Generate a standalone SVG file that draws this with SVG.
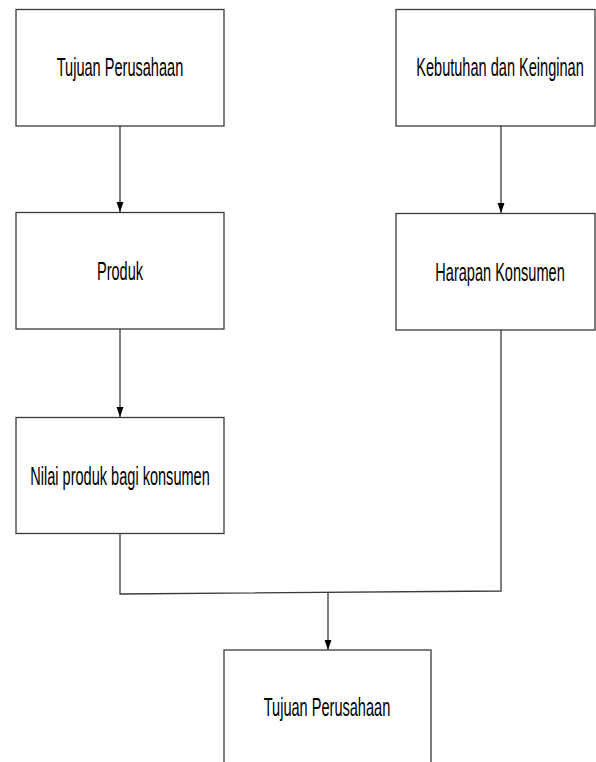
<svg xmlns="http://www.w3.org/2000/svg" width="596" height="762" viewBox="0 0 596 762">
<style>
.box{fill:#fff;stroke:#3a3a3a;stroke-width:1.3}
.lbl{font-family:"Liberation Sans",Arial,sans-serif;font-size:26px;fill:#000;text-anchor:middle}
.ln{fill:none;stroke:#3a3a3a;stroke-width:1.3}
</style>
<defs>
<marker id="ah" markerWidth="10" markerHeight="8" refX="10" refY="4" orient="auto" markerUnits="userSpaceOnUse" viewBox="0 0 10 8">
<path d="M0,0.5 L10,4 L0,7.5 Z" fill="#000"/>
</marker>
</defs>
<rect width="596" height="762" fill="#fff"/>
<g id="connectors">
<path class="ln" d="M120,126 L120,212" marker-end="url(#ah)"/>
<path class="ln" d="M501,126 L501,213" marker-end="url(#ah)"/>
<path class="ln" d="M120,329 L120,417" marker-end="url(#ah)"/>
<path class="ln" d="M120,533 L120,594 L501,591 L501,330"/>
<path class="ln" d="M328,593 L328,650" marker-end="url(#ah)"/>
</g>
<g id="n1"><rect class="box" x="16" y="9.5" width="208" height="116.5"/><text class="lbl" transform="translate(120,76) scale(0.56,1)">Tujuan Perusahaan</text></g>
<g id="n2"><rect class="box" x="396" y="9.5" width="199" height="116.5"/><text class="lbl" transform="translate(500,76) scale(0.56,1)">Kebutuhan dan Keinginan</text></g>
<g id="n3"><rect class="box" x="16" y="212.5" width="208" height="116.5"/><text class="lbl" transform="translate(120,280) scale(0.56,1)">Produk</text></g>
<g id="n4"><rect class="box" x="396" y="213.5" width="199" height="116.5"/><text class="lbl" transform="translate(500,281) scale(0.56,1)">Harapan Konsumen</text></g>
<g id="n5"><rect class="box" x="16" y="417.5" width="208" height="116"/><text class="lbl" transform="translate(120,485) scale(0.56,1)">Nilai produk bagi konsumen</text></g>
<g id="n6"><rect class="box" x="224" y="650" width="207" height="120"/><text class="lbl" transform="translate(327,716) scale(0.56,1)">Tujuan Perusahaan</text></g>
</svg>
